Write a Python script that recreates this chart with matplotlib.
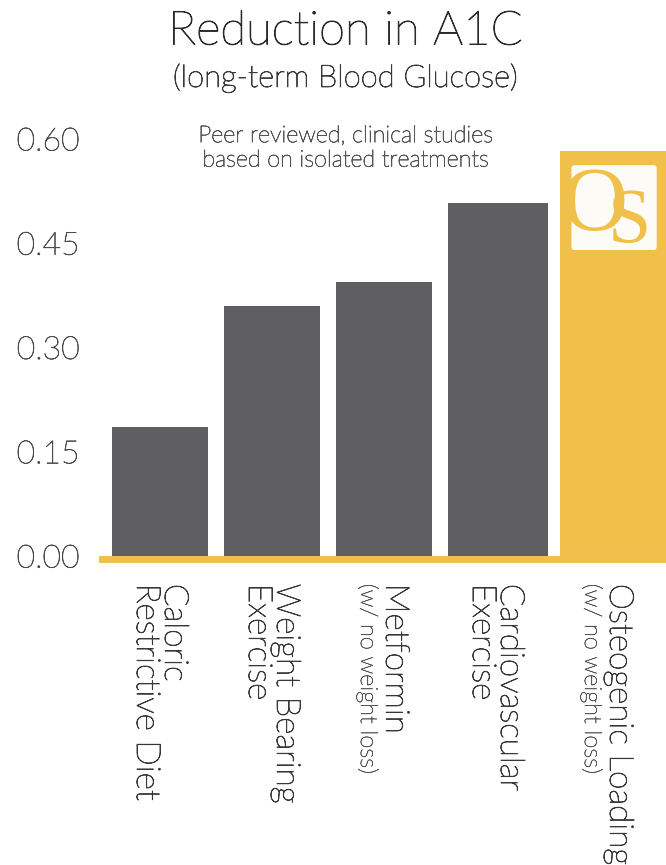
import numpy as np
import matplotlib.pyplot as plt
import matplotlib.patheffects as pe
from matplotlib.patches import FancyBboxPatch

plt.rcParams['font.family'] = ['Lato', 'DejaVu Sans']
plt.rcParams['font.weight'] = 'light'

# data
main_labels = ['Caloric\nRestrictive Diet', 'Weight Bearing\nExercise', 'Metformin',
               'Cardiovascular\nExercise', 'Osteogenic Loading']
sub_labels = ['', '', '(w/ no weight loss)', '', '(w/ no weight loss)']
values = [0.186, 0.360, 0.394, 0.508, 0.583]
yticks = [0.00, 0.15, 0.30, 0.45, 0.60]

gray = '#5f5f61'
gold = '#f1c04b'


def thick(c, w=0.5):
    return [pe.withStroke(linewidth=w, foreground=c)]


fig = plt.figure(figsize=(6.66, 8.65), dpi=100)
ax = fig.add_axes([0.1532, 0.3572, 0.8468, 0.5272])

x = np.arange(len(values))
widths = [0.86, 0.86, 0.86, 0.89, 1.3]
colors = [gray] * 4 + [gold]
ax.bar(x - 0.43, values, width=widths, align='edge', color=colors, zorder=2)

ax.set_xlim(-0.518, 4.518)
ax.set_ylim(0, 0.656)
ax.set_yticks(yticks)
ax.set_yticklabels(['%.2f' % v for v in yticks], fontsize=23, color='#4c4c4c')
for t in ax.get_yticklabels():
    t.set_path_effects(thick('#4c4c4c', 0.5))
ax.tick_params(axis='y', length=0, pad=16)
ax.set_xticks([])

for s in ['top', 'right', 'left']:
    ax.spines[s].set_visible(False)
ax.spines['bottom'].set_color(gold)
ax.spines['bottom'].set_linewidth(5)
ax.spines['bottom'].set_position(('outward', 2.5))

# x labels, rotated
for i, (m, s) in enumerate(zip(main_labels, sub_labels)):
    if s:
        ax.annotate(m, xy=(i, 0), xytext=(8, -20), textcoords='offset points',
                    rotation=270, ha='center', va='top', fontsize=24, color='#383838',
                    path_effects=thick('#383838', 0.6), annotation_clip=False)
        ax.annotate(s, xy=(i, 0), xytext=(-11.5, -20), textcoords='offset points',
                    rotation=270, ha='center', va='top', fontsize=17, color='#555555',
                    path_effects=thick('#555555', 0.4), annotation_clip=False)
    else:
        ax.annotate(m, xy=(i, 0), xytext=(0, -20), textcoords='offset points',
                    rotation=270, ha='center', va='top', fontsize=24, color='#383838',
                    linespacing=0.92, multialignment='left',
                    path_effects=thick('#383838', 0.6), annotation_clip=False)

fig.text(0.519, 0.963, 'Reduction in A1C', ha='center', va='center',
         fontsize=34, color='#2a2a2a', path_effects=thick('#2a2a2a', 0.7))
fig.text(0.519, 0.910, '(long-term Blood Glucose)', ha='center', va='center',
         fontsize=22.3, color='#3a3a3a', path_effects=thick('#3a3a3a', 0.6))
fig.text(0.519, 0.829, 'Peer reviewed, clinical studies\nbased on isolated treatments',
         ha='center', va='center', fontsize=16.8, color='#555555', linespacing=1.2,
         path_effects=thick('#555555', 0.5))

# logo
fig.patches.append(FancyBboxPatch((0.858, 0.711), 0.128, 0.098,
                                  boxstyle='round,pad=0,rounding_size=0.004',
                                  transform=fig.transFigure, facecolor='#fdfbf5',
                                  edgecolor='none', zorder=5))
fig.text(0.893, 0.760, 'O', ha='center', va='center', fontsize=66,
         family='Liberation Serif', color=gold, zorder=6)
fig.text(0.945, 0.742, 'S', ha='center', va='center', fontsize=56,
         family='Liberation Serif', color=gold, zorder=7)

fig.savefig('out.png', dpi=100)
